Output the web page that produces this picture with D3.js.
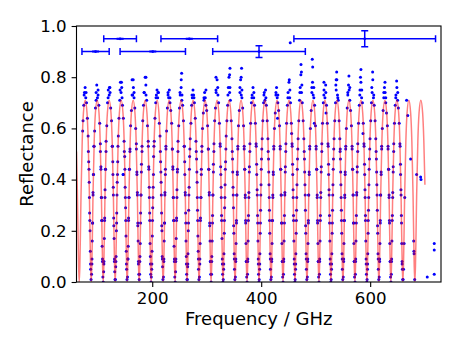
<!DOCTYPE html>
<html>
<head>
<meta charset="utf-8">
<script src="https://cdn.jsdelivr.net/npm/d3@7"></script>
<style>
  html, body { margin: 0; padding: 0; background: #fff; }
  svg { display: block; font-family: "DejaVu Sans", sans-serif; }
</style>
</head>
<body>
<script>
// tick labels
var xTicks = [200, 400, 600];
var yTicks = [0, 0.2, 0.4, 0.6, 0.8, 1.0];

// fitted model (red line), [GHz, reflectance]
var fitLine = [
  [61,.51],[62.5,.36],[63.8,.19],[64.9,.06],
  [66,0],[67.1,.06],[68.2,.19],[69.3,.34],[71.5,.55],[73.7,.66],[77,.71],[80.3,.66],[82.5,.55],[84.7,.34],[85.8,.19],[86.9,.06],
  [88,0],[89.1,.06],[90.2,.19],[91.3,.34],[93.5,.55],[95.7,.66],[99,.71],[102.3,.66],[104.5,.55],[106.7,.34],[107.8,.19],[108.9,.06],
  [110,0],[111.1,.06],[112.2,.19],[113.3,.34],[115.5,.55],[117.7,.66],[121,.71],[124.3,.66],[126.5,.55],[128.7,.34],[129.8,.19],[130.9,.06],
  [132,0],[133.1,.06],[134.2,.19],[135.3,.34],[137.5,.55],[139.7,.66],[143,.71],[146.3,.66],[148.5,.55],[150.7,.34],[151.8,.19],[152.9,.06],
  [154,0],[155.1,.06],[156.2,.19],[157.3,.34],[159.5,.55],[161.7,.66],[165,.71],[168.3,.66],[170.5,.55],[172.7,.34],[173.8,.19],[174.9,.06],
  [176,0],[177.1,.06],[178.2,.19],[179.3,.34],[181.5,.55],[183.7,.66],[187,.71],[190.3,.66],[192.5,.55],[194.7,.34],[195.8,.19],[196.9,.06],
  [198,0],[199.1,.06],[200.2,.19],[201.3,.34],[203.5,.55],[205.7,.66],[209,.71],[212.3,.66],[214.5,.55],[216.7,.34],[217.8,.19],[218.9,.06],
  [220,0],[221.1,.06],[222.2,.19],[223.3,.34],[225.5,.55],[227.7,.66],[231,.71],[234.3,.66],[236.5,.55],[238.7,.34],[239.8,.19],[240.9,.06],
  [242,0],[243.1,.06],[244.2,.19],[245.3,.34],[247.5,.55],[249.7,.66],[253,.71],[256.3,.66],[258.5,.55],[260.7,.34],[261.8,.19],[262.9,.06],
  [264,0],[265.1,.06],[266.2,.19],[267.3,.34],[269.5,.55],[271.7,.66],[275,.71],[278.3,.66],[280.5,.55],[282.7,.34],[283.8,.19],[284.9,.06],
  [286,0],[287.1,.06],[288.2,.19],[289.3,.34],[291.5,.55],[293.7,.66],[297,.71],[300.3,.66],[302.5,.55],[304.7,.34],[305.8,.19],[306.9,.06],
  [308,0],[309.1,.06],[310.2,.19],[311.3,.34],[313.5,.55],[315.7,.66],[319,.71],[322.3,.66],[324.5,.55],[326.7,.34],[327.8,.19],[328.9,.06],
  [330,0],[331.1,.06],[332.2,.19],[333.3,.34],[335.5,.55],[337.7,.66],[341,.71],[344.3,.66],[346.5,.55],[348.7,.34],[349.8,.19],[350.9,.06],
  [352,0],[353.1,.06],[354.2,.19],[355.3,.34],[357.5,.55],[359.7,.66],[363,.71],[366.3,.66],[368.5,.55],[370.7,.34],[371.8,.19],[372.9,.06],
  [374,0],[375.1,.06],[376.2,.19],[377.3,.34],[379.5,.55],[381.7,.66],[385,.71],[388.3,.66],[390.5,.55],[392.7,.34],[393.8,.19],[394.9,.06],
  [396,0],[397.1,.06],[398.2,.19],[399.3,.34],[401.5,.55],[403.7,.66],[407,.71],[410.3,.66],[412.5,.55],[414.7,.34],[415.8,.19],[416.9,.06],
  [418,0],[419.1,.06],[420.2,.19],[421.3,.34],[423.5,.55],[425.7,.66],[429,.71],[432.3,.66],[434.5,.55],[436.7,.34],[437.8,.19],[438.9,.06],
  [440,0],[441.1,.06],[442.2,.19],[443.3,.34],[445.5,.55],[447.7,.66],[451,.71],[454.3,.66],[456.5,.55],[458.7,.34],[459.8,.19],[460.9,.06],
  [462,0],[463.1,.06],[464.2,.19],[465.3,.34],[467.5,.55],[469.7,.66],[473,.71],[476.3,.66],[478.5,.55],[480.7,.34],[481.8,.19],[482.9,.06],
  [484,0],[485.1,.06],[486.2,.19],[487.3,.34],[489.5,.55],[491.7,.66],[495,.71],[498.3,.66],[500.5,.55],[502.7,.34],[503.8,.19],[504.9,.06],
  [506,0],[507.1,.06],[508.2,.19],[509.3,.34],[511.5,.55],[513.7,.66],[517,.71],[520.3,.66],[522.5,.55],[524.7,.34],[525.8,.19],[526.9,.06],
  [528,0],[529.1,.06],[530.2,.19],[531.3,.34],[533.5,.55],[535.7,.66],[539,.71],[542.3,.66],[544.5,.55],[546.7,.34],[547.8,.19],[548.9,.06],
  [550,0],[551.1,.06],[552.2,.19],[553.3,.34],[555.5,.55],[557.7,.66],[561,.71],[564.3,.66],[566.5,.55],[568.7,.34],[569.8,.19],[570.9,.06],
  [572,0],[573.1,.06],[574.2,.19],[575.3,.34],[577.5,.55],[579.7,.66],[583,.71],[586.3,.66],[588.5,.55],[590.7,.34],[591.8,.19],[592.9,.06],
  [594,0],[595.1,.06],[596.2,.19],[597.3,.34],[599.5,.55],[601.7,.66],[605,.71],[608.3,.66],[610.5,.55],[612.7,.34],[613.8,.19],[614.9,.06],
  [616,0],[617.1,.06],[618.2,.19],[619.3,.34],[621.5,.55],[623.7,.66],[627,.71],[630.3,.66],[632.5,.55],[634.7,.34],[635.8,.19],[636.9,.06],
  [638,0],[639.1,.06],[640.2,.19],[641.3,.34],[643.5,.55],[645.7,.66],[649,.71],[652.3,.66],[654.5,.55],[656.7,.34],[657.8,.19],[658.9,.06],
  [660,0],[661.1,.06],[662.2,.19],[663.3,.34],[665.5,.55],[667.7,.66],[671,.71],[674.3,.66],[676.5,.55],[678.7,.34],[679.8,.19],[680.9,.06],
  [682,0],[683.1,.06],[684.2,.19],[685.3,.34],[687.5,.55],[689.7,.66],[693,.71],[696.3,.66],[698.5,.55],[700.5,.38]
];

// measured points, first sweep (blue dots), [GHz, reflectance]
var measured = [
  [72.3,.59],[73.0,.63],[74.4,.69],[75.6,.74],[76.8,.76],[78.0,.72],[79.4,.70],[81.0,.64],[82.3,.57],[83.4,.47],[84.3,.39],[85.1,.27],[85.8,.20],[86.4,.12],[87.0,.05],[87.7,.01],
  [88.6,.03],[89.3,.07],[89.9,.16],[90.6,.23],[91.3,.35],[92.1,.42],[93.1,.53],[94.3,.59],[95.8,.68],[97.0,.74],[98.2,.77],[99.4,.72],[100.6,.75],[102.0,.69],[103.6,.62],[104.8,.54],[105.8,.45],[106.7,.33],[107.5,.24],[108.1,.14],[108.7,.09],[109.4,.02],
  [110.1,.00],[110.8,.04],[111.4,.08],[112.0,.17],[112.7,.25],[113.4,.36],[114.3,.44],[115.3,.55],[116.6,.61],[118.0,.70],[119.3,.75],[121.0,.73],[122.3,.76],[123.8,.68],[125.3,.63],[126.6,.53],[127.6,.47],[128.5,.37],[129.3,.25],[130.0,.17],[130.6,.08],[131.2,.04],[131.8,.01],
  [132.3,.01],[133.0,.06],[133.6,.10],[134.2,.20],[134.9,.27],[135.7,.39],[136.6,.47],[137.7,.57],[139.0,.64],[140.4,.71],[141.6,.78],[142.8,.74],[144.0,.76],[145.4,.69],[147.0,.64],[148.3,.55],[149.4,.49],[150.3,.37],[151.1,.29],[151.8,.18],[152.4,.12],[153.0,.05],[153.7,.01],
  [154.6,.02],[155.3,.09],[155.9,.14],[156.6,.25],[157.3,.33],[158.1,.44],[159.1,.51],[160.3,.61],[161.8,.67],[163.0,.79],[164.2,.73],[165.4,.76],[166.6,.72],[168.0,.68],[169.6,.60],[170.8,.54],[171.8,.43],[172.7,.35],[173.5,.22],[174.1,.16],[174.7,.07],[175.4,.03],
  [176.1,.01],[176.8,.03],[177.4,.10],[178.0,.15],[178.7,.27],[179.4,.34],[180.3,.46],[181.3,.53],[182.6,.63],[184.0,.69],[185.3,.74],[187.0,.80],[188.3,.77],[189.8,.71],[191.3,.61],[192.6,.55],[193.6,.45],[194.5,.37],[195.3,.27],[196.0,.15],[196.6,.10],[197.2,.03],[197.8,.00],
  [198.3,.02],[199.0,.05],[199.6,.12],[200.2,.18],[200.9,.29],[201.7,.37],[202.6,.49],[203.7,.55],[205.0,.64],[206.4,.70],[207.6,.73],[208.8,.75],[210.0,.72],[211.4,.74],[213.0,.62],[214.3,.57],[215.4,.47],[216.3,.39],[217.1,.27],[217.8,.20],[218.4,.10],[219.0,.06],[219.7,.01],
  [220.6,.02],[221.3,.08],[221.9,.16],[222.6,.23],[223.3,.35],[224.1,.42],[225.1,.53],[226.3,.59],[227.8,.68],[229.0,.74],[230.2,.72],[231.4,.75],[232.6,.70],[234.0,.67],[235.6,.62],[236.8,.52],[237.8,.45],[238.7,.33],[239.5,.24],[240.1,.14],[240.7,.09],[241.4,.02],
  [242.1,.00],[242.8,.04],[243.4,.09],[244.0,.17],[244.7,.25],[245.4,.36],[246.3,.44],[247.3,.55],[248.6,.61],[250.0,.68],[251.3,.73],[253.0,.76],[254.3,.71],[255.8,.69],[257.3,.63],[258.6,.53],[259.6,.47],[260.5,.35],[261.3,.27],[262.0,.16],[262.6,.10],[263.2,.03],[263.8,.01],
  [264.3,.01],[265.0,.06],[265.6,.11],[266.2,.20],[266.9,.28],[267.7,.37],[268.6,.49],[269.7,.56],[271.0,.62],[272.4,.69],[273.6,.72],[274.8,.75],[276.0,.73],[277.4,.70],[279.0,.64],[280.3,.55],[281.4,.48],[282.3,.39],[283.1,.28],[283.8,.18],[284.4,.12],[285.0,.05],[285.7,.01],
  [286.6,.02],[287.3,.07],[287.9,.15],[288.6,.25],[289.3,.33],[290.1,.44],[291.1,.51],[292.3,.60],[293.8,.66],[295.0,.71],[296.2,.74],[297.4,.72],[298.6,.69],[300.0,.67],[301.6,.61],[302.8,.52],[303.8,.44],[304.7,.35],[305.5,.22],[306.1,.16],[306.7,.08],[307.4,.03],
  [308.1,.00],[308.8,.03],[309.4,.10],[310.0,.16],[310.7,.26],[311.4,.34],[312.3,.46],[313.3,.54],[314.6,.63],[316.0,.68],[317.3,.74],[319.0,.79],[320.3,.76],[321.8,.70],[323.3,.62],[324.6,.54],[325.6,.45],[326.5,.37],[327.3,.26],[328.0,.17],[328.6,.09],[329.2,.03],[329.8,.00],
  [330.3,.01],[331.0,.05],[331.6,.11],[332.2,.19],[332.9,.29],[333.7,.38],[334.6,.47],[335.7,.57],[337.0,.63],[338.4,.69],[339.6,.76],[340.8,.80],[342.0,.74],[343.4,.71],[345.0,.63],[346.3,.56],[347.4,.48],[348.3,.37],[349.1,.29],[349.8,.19],[350.4,.11],[351.0,.05],[351.7,.01],
  [352.6,.02],[353.3,.08],[353.9,.15],[354.6,.24],[355.3,.34],[356.1,.43],[357.1,.52],[358.3,.61],[359.8,.67],[361.0,.76],[362.2,.79],[363.4,.73],[364.6,.75],[366.0,.68],[367.6,.61],[368.8,.53],[369.8,.44],[370.7,.34],[371.5,.23],[372.1,.15],[372.7,.08],[373.4,.02],
  [374.1,.00],[374.8,.03],[375.4,.09],[376.0,.16],[376.7,.26],[377.4,.35],[378.3,.45],[379.3,.54],[380.6,.62],[382.0,.70],[383.3,.73],[385.0,.76],[386.3,.72],[387.8,.69],[389.3,.62],[390.6,.54],[391.6,.46],[392.5,.36],[393.3,.26],[394.0,.16],[394.6,.09],[395.2,.03],[395.8,.00],
  [396.3,.01],[397.0,.05],[397.6,.11],[398.2,.19],[398.9,.28],[399.7,.38],[400.6,.48],[401.7,.56],[403.0,.63],[404.4,.70],[405.6,.74],[406.8,.71],[408.0,.75],[409.4,.69],[411.0,.63],[412.3,.56],[413.4,.48],[414.3,.38],[415.1,.28],[415.8,.19],[416.4,.11],[417.0,.05],[417.7,.01],
  [418.6,.02],[419.3,.08],[419.9,.15],[420.6,.24],[421.3,.34],[422.1,.43],[423.1,.52],[424.3,.60],[425.8,.66],[427.0,.73],[428.2,.76],[429.4,.72],[430.6,.70],[432.0,.67],[433.6,.61],[434.8,.53],[435.8,.44],[436.7,.34],[437.5,.23],[438.1,.15],[438.7,.08],[439.4,.02],
  [440.1,.00],[440.8,.03],[441.4,.09],[442.0,.16],[442.7,.26],[443.4,.35],[444.3,.45],[445.3,.54],[446.6,.62],[448.0,.69],[449.3,.74],[451.0,.78],[452.3,.72],[453.8,.70],[455.3,.62],[456.6,.54],[457.6,.46],[458.5,.36],[459.3,.26],[460.0,.16],[460.6,.09],[461.2,.03],[461.8,.00],
  [462.3,.01],[463.0,.05],[463.6,.11],[464.2,.19],[464.9,.28],[465.7,.38],[466.6,.48],[467.7,.56],[469.0,.63],[470.4,.71],[471.6,.76],[472.8,.81],[474.0,.74],[475.4,.70],[477.0,.63],[478.3,.56],[479.4,.48],[480.3,.38],[481.1,.28],[481.8,.19],[482.4,.11],[483.0,.05],[483.7,.01],
  [484.6,.02],[485.3,.08],[485.9,.15],[486.6,.24],[487.3,.34],[488.1,.43],[489.1,.52],[490.3,.60],[491.8,.67],[493.0,.74],[494.2,.78],[495.4,.73],[496.6,.76],[498.0,.69],[499.6,.61],[500.8,.53],[501.8,.44],[502.7,.34],[503.5,.23],[504.1,.15],[504.7,.08],[505.4,.02],
  [506.1,.00],[506.8,.03],[507.4,.09],[508.0,.16],[508.7,.26],[509.4,.35],[510.3,.45],[511.3,.54],[512.6,.62],[514.0,.70],[515.3,.75],[517.0,.72],[518.3,.77],[519.8,.69],[521.3,.62],[522.6,.54],[523.6,.46],[524.5,.36],[525.3,.26],[526.0,.16],[526.6,.09],[527.2,.03],[527.8,.00],
  [528.3,.01],[529.0,.05],[529.6,.11],[530.2,.19],[530.9,.28],[531.7,.38],[532.6,.48],[533.7,.56],[535.0,.63],[536.4,.70],[537.6,.75],[538.8,.79],[540.0,.73],[541.4,.71],[543.0,.63],[544.3,.56],[545.4,.48],[546.3,.38],[547.1,.28],[547.8,.19],[548.4,.11],[549.0,.05],[549.7,.01],
  [550.6,.02],[551.3,.08],[551.9,.15],[552.6,.24],[553.3,.34],[554.1,.43],[555.1,.52],[556.3,.60],[557.8,.68],[559.0,.73],[560.2,.77],[561.4,.75],[562.6,.71],[564.0,.67],[565.6,.61],[566.8,.53],[567.8,.44],[568.7,.34],[569.5,.23],[570.1,.15],[570.7,.08],[571.4,.02],
  [572.1,.00],[572.8,.03],[573.4,.09],[574.0,.16],[574.7,.26],[575.4,.35],[576.3,.45],[577.3,.54],[578.6,.62],[580.0,.69],[581.3,.75],[583.0,.78],[584.3,.72],[585.8,.70],[587.3,.62],[588.6,.54],[589.6,.46],[590.5,.36],[591.3,.26],[592.0,.16],[592.6,.09],[593.2,.03],[593.8,.00],
  [594.3,.01],[595.0,.05],[595.6,.11],[596.2,.19],[596.9,.28],[597.7,.38],[598.6,.48],[599.7,.56],[601.0,.63],[602.4,.70],[603.6,.74],[604.8,.79],[606.0,.72],[607.4,.69],[609.0,.63],[610.3,.56],[611.4,.48],[612.3,.38],[613.1,.28],[613.8,.19],[614.4,.11],[615.0,.05],[615.7,.01],
  [616.6,.02],[617.3,.08],[617.9,.15],[618.6,.24],[619.3,.34],[620.1,.43],[621.1,.52],[622.3,.60],[623.8,.67],[625.0,.72],[626.2,.76],[627.4,.74],[628.6,.70],[630.0,.66],[631.6,.61],[632.8,.53],[633.8,.44],[634.7,.34],[635.5,.23],[636.1,.15],[636.7,.08],[637.4,.02],
  [638.1,.00],[638.8,.03],[639.4,.09],[640.0,.16],[640.7,.26],[641.4,.35],[642.3,.45],[643.3,.54],[644.6,.62],[646.0,.69],[647.3,.73],[649.0,.76],[650.3,.71],[651.8,.68],[653.3,.62],[654.6,.54],[655.6,.46],[656.5,.36],[657.3,.26],[658.0,.15],[658.6,.08],[659.2,.05],[659.8,.01],
  [660.4,.01],[661.2,.05],[662.3,.15],[663.5,.33],[666.9,.71],[669.0,.65],[674.3,.48],[679.9,.16],[680.3,.12],[680.6,.11],[681.7,.01],
  [685.3,.42],[692.6,.41],[693.3,.40],[704.8,.02],[717.6,.15],[717.6,.125],[717.6,.03],
  // scatter above the peaks and stray points
  [165.1,.79],[188.4,.80],[254.0,.815],[253.2,.79],[317.0,.80],[342.7,.835],[342.0,.81],[364.0,.835],[363.2,.80],
  [451.5,.79],[453.3,.935],[473.0,.85],[473.8,.82],[493.7,.87],[494.5,.84],[515.2,.78],[538.5,.82],[537.6,.79],
  [561.0,.805],[583.0,.83],[582.2,.80],[604.5,.82],[627.2,.78],[648.6,.785],[143.5,.78],[121.5,.76],
  [146.5,.42],[147.2,.42],[455.8,.58],[497.5,.62],[545.1,.52],[586.8,.58],[519.0,.66],[430.0,.64]
];

// measured points, second overlapping sweep
var measuredB = [
  [75.0,.73],[78.6,.74],[82.85,.51],[83.85,.44],[84.7,.33],[85.45,.24],[86.7,.07],
  [89.4,.09],[90.55,.23],[91.4,.34],[92.15,.42],[93.15,.53],[97.0,.71],[100.6,.73],[104.85,.51],[105.85,.44],[106.8,.33],[107.45,.24],[108.7,.08],
  [111.2,.07],[112.5,.24],[113.3,.33],[114.1,.44],[115.2,.51],[119.0,.72],[122.6,.74],[126.9,.53],[127.9,.42],[128.7,.34],[129.5,.22],[130.7,.09],
  [133.3,.08],[134.6,.23],[135.3,.34],[136.2,.42],[137.1,.53],[141.0,.75],[144.6,.72],[148.8,.51],[149.8,.44],[150.7,.33],[151.4,.24],[152.7,.07],
  [155.4,.09],[156.5,.24],[157.4,.33],[158.2,.44],[159.2,.52],[163.0,.73],[166.6,.74],[170.9,.52],[171.9,.42],[172.7,.34],[173.5,.23],[174.7,.08],
  [177.2,.08],[178.6,.23],[179.3,.34],[180.1,.43],[181.2,.51],[185.0,.74],[188.6,.73],[192.8,.53],[193.8,.44],[194.7,.33],[195.4,.24],[196.7,.07],
  [199.3,.07],[200.5,.24],[201.3,.33],[202.2,.42],[203.1,.53],[207.0,.72],[210.6,.74],[214.9,.51],[215.9,.43],[216.7,.34],[217.5,.22],[218.7,.09],
  [221.4,.09],[222.6,.23],[223.2,.34],[224.2,.44],[225.2,.52],[229.0,.73],[232.6,.72],[236.8,.52],[237.9,.44],[238.7,.33],[239.4,.24],[240.7,.08],
  [243.2,.08],[244.5,.24],[245.3,.33],[246.1,.43],[247.2,.51],[251.0,.74],[254.6,.73],[258.9,.53],[259.8,.42],[260.7,.34],[261.5,.23],[262.7,.07],
  [265.3,.07],[266.6,.23],[267.3,.34],[268.2,.44],[269.1,.52],[273.0,.73],[276.6,.72],[280.8,.51],[281.9,.43],[282.7,.33],[283.4,.24],[284.7,.09],
  [287.4,.09],[288.5,.24],[289.4,.33],[290.1,.42],[291.2,.53],[295.0,.72],[298.6,.75],[302.9,.52],[303.8,.44],[304.7,.34],[305.5,.23],[306.7,.08],
  [309.2,.08],[310.6,.23],[311.3,.34],[312.2,.43],[313.1,.51],[317.0,.75],[320.6,.73],[324.8,.53],[325.9,.42],[326.7,.33],[327.4,.24],[328.7,.07],
  [331.3,.07],[332.5,.24],[333.3,.33],[334.1,.44],[335.2,.52],[339.0,.73],[342.6,.76],[346.9,.51],[347.8,.43],[348.7,.34],[349.5,.22],[350.7,.09],
  [353.4,.09],[354.6,.23],[355.2,.34],[356.2,.42],[357.1,.53],[361.0,.74],[364.6,.72],[368.8,.52],[369.9,.44],[370.7,.33],[371.4,.24],[372.7,.08],
  [375.2,.08],[376.5,.24],[377.3,.33],[378.2,.43],[379.2,.51],[383.0,.72],[386.6,.74],[390.9,.53],[391.8,.42],[392.7,.34],[393.5,.23],[394.7,.07],
  [397.3,.07],[398.6,.23],[399.3,.34],[400.1,.44],[401.1,.52],[405.0,.73],[408.6,.72],[412.8,.51],[413.9,.43],[414.7,.33],[415.4,.24],[416.7,.09],
  [419.4,.09],[420.5,.24],[421.4,.33],[422.2,.42],[423.2,.53],[427.0,.74],[430.6,.73],[434.9,.52],[435.8,.44],[436.7,.34],[437.5,.23],[438.7,.08],
  [441.2,.08],[442.6,.23],[443.3,.34],[444.1,.43],[445.1,.51],[449.0,.72],[452.6,.75],[456.8,.53],[457.9,.42],[458.7,.33],[459.4,.24],[460.7,.07],
  [463.3,.07],[464.5,.24],[465.3,.33],[466.2,.44],[467.2,.52],[471.0,.74],[474.6,.77],[478.9,.51],[479.8,.43],[480.7,.34],[481.5,.22],[482.7,.09],
  [485.4,.09],[486.6,.23],[487.2,.34],[488.2,.42],[489.1,.53],[493.0,.76],[496.6,.72],[500.8,.52],[501.9,.44],[502.7,.33],[503.4,.24],[504.7,.08],
  [507.2,.08],[508.5,.24],[509.3,.33],[510.1,.43],[511.2,.51],[515.0,.73],[518.6,.74],[522.9,.53],[523.8,.42],[524.7,.34],[525.5,.23],[526.7,.07],
  [529.3,.07],[530.6,.23],[531.3,.34],[532.2,.44],[533.1,.52],[537.0,.77],[540.6,.72],[544.8,.51],[545.9,.43],[546.7,.33],[547.4,.24],[548.7,.09],
  [551.4,.09],[552.5,.24],[553.4,.33],[554.1,.42],[555.2,.53],[559.0,.74],[562.6,.76],[566.9,.52],[567.8,.44],[568.7,.34],[569.5,.23],[570.7,.08],
  [573.2,.08],[574.6,.23],[575.3,.34],[576.2,.43],[577.1,.51],[581.0,.73],[584.6,.75],[588.8,.53],[589.9,.42],[590.7,.33],[591.4,.24],[592.7,.07],
  [595.3,.07],[596.5,.24],[597.3,.33],[598.1,.44],[599.2,.52],[603.0,.76],[606.6,.73],[610.9,.51],[611.8,.43],[612.7,.34],[613.5,.22],[614.7,.09],
  [617.4,.09],[618.6,.23],[619.2,.34],[620.2,.42],[621.1,.53],[625.0,.74],[628.6,.72],[632.8,.52],[633.9,.44],[634.7,.33],[635.4,.24],[636.7,.08],
  [639.2,.08],[640.5,.24],[641.3,.33],[642.2,.43],[643.2,.51],[647.0,.72],[650.6,.74],[654.9,.53],[655.8,.42],[656.7,.34],[657.5,.23],[658.7,.07]
];

// source bands (error bars)
var bandFreq = [96, 141, 201, 268, 396, 590];
var bandRefl = [0.90, 0.95, 0.90, 0.95, 0.90, 0.95];
var bandFreqErr = [25, 30, 60, 52, 85, 130];
var bandReflErr = [0.001, 0.001, 0.001, 0.001, 0.023, 0.031];

var w = 463,
    h = 347;
var margin = {top: 26, right: 22, bottom: 65, left: 76.5},
    width = w - margin.left - margin.right,
    height = h - margin.top - margin.bottom;

var svg = d3.select("body").append("svg")
    .attr("width", w)
    .attr("height", h)
  .append("g")
    .attr("transform", "translate(" + margin.left + "," + margin.top + ")");

var xScale = d3.scaleLinear().domain([61, 730]).range([0, width]);
var yScale = d3.scaleLinear().domain([0, 1]).range([height, 0]);

svg.append("clipPath").attr("id", "plot-clip")
  .append("rect").attr("width", width).attr("height", height);

var plot = svg.append("g").attr("clip-path", "url(#plot-clip)");

// measured dots
plot.append("g").selectAll("circle")
    .data(measured.concat(measuredB))
  .enter().append("circle")
    .attr("cx", function(d) { return xScale(d[0]); })
    .attr("cy", function(d) { return yScale(d[1]); })
    .attr("r", 1.5)
    .attr("fill", "#0000ff");

// model line
var line = d3.line()
    .x(function(d) { return xScale(d[0]); })
    .y(function(d) { return yScale(d[1]); })
    .curve(d3.curveMonotoneX);

plot.append("path")
    .attr("d", line(fitLine))
    .attr("fill", "none")
    .attr("stroke", "#ff0000")
    .attr("stroke-opacity", 0.5)
    .attr("stroke-width", 1.5);

// error bars
var cap = 3.5;
var bands = plot.append("g")
    .attr("stroke", "#0000ff")
    .attr("stroke-width", 1.5);

bandFreq.forEach(function(f, i) {
  var cx = xScale(f), cy = yScale(bandRefl[i]);
  var x0 = xScale(f - bandFreqErr[i]), x1 = xScale(f + bandFreqErr[i]);
  var y0 = yScale(bandRefl[i] - bandReflErr[i]), y1 = yScale(bandRefl[i] + bandReflErr[i]);
  bands.append("line").attr("x1", x0).attr("x2", x1).attr("y1", cy).attr("y2", cy);
  bands.append("line").attr("x1", x0).attr("x2", x0).attr("y1", cy - cap).attr("y2", cy + cap);
  bands.append("line").attr("x1", x1).attr("x2", x1).attr("y1", cy - cap).attr("y2", cy + cap);
  bands.append("line").attr("x1", cx).attr("x2", cx).attr("y1", y0).attr("y2", y1);
  bands.append("line").attr("x1", cx - cap).attr("x2", cx + cap).attr("y1", y0).attr("y2", y0);
  bands.append("line").attr("x1", cx - cap).attr("x2", cx + cap).attr("y1", y1).attr("y2", y1);
  bands.append("circle").attr("cx", cx).attr("cy", cy).attr("r", 1.4)
      .attr("fill", "#0000ff").attr("stroke", "none");
});

// axes
var xAxis = svg.append("g")
    .attr("transform", "translate(0," + height + ")")
    .call(d3.axisBottom(xScale).tickValues(xTicks).tickSize(4.9).tickPadding(4.9));
var yAxis = svg.append("g")
    .call(d3.axisLeft(yScale).tickValues(yTicks).tickFormat(d3.format(".1f")).tickSize(4.9).tickPadding(4.9));

[xAxis, yAxis].forEach(function(a) {
  a.select(".domain").remove();
  a.attr("font-family", "DejaVu Sans, sans-serif").attr("font-size", 16.67);
  a.selectAll(".tick line").attr("stroke", "#000").attr("stroke-width", 1.1);
  a.selectAll(".tick text").attr("fill", "#000");
});

// frame
svg.append("rect")
    .attr("width", width)
    .attr("height", height)
    .attr("fill", "none")
    .attr("stroke", "#000")
    .attr("stroke-width", 1.1);

// axis labels
svg.append("text")
    .attr("x", width / 2)
    .attr("y", height + 43)
    .attr("text-anchor", "middle")
    .attr("font-size", 18)
    .attr("fill", "#000")
    .text("Frequency / GHz");

svg.append("text")
    .attr("transform", "translate(" + (33 - margin.left) + "," + (height / 2) + ") rotate(-90)")
    .attr("text-anchor", "middle")
    .attr("font-size", 18)
    .attr("fill", "#000")
    .text("Reflectance");
</script>
</body>
</html>
